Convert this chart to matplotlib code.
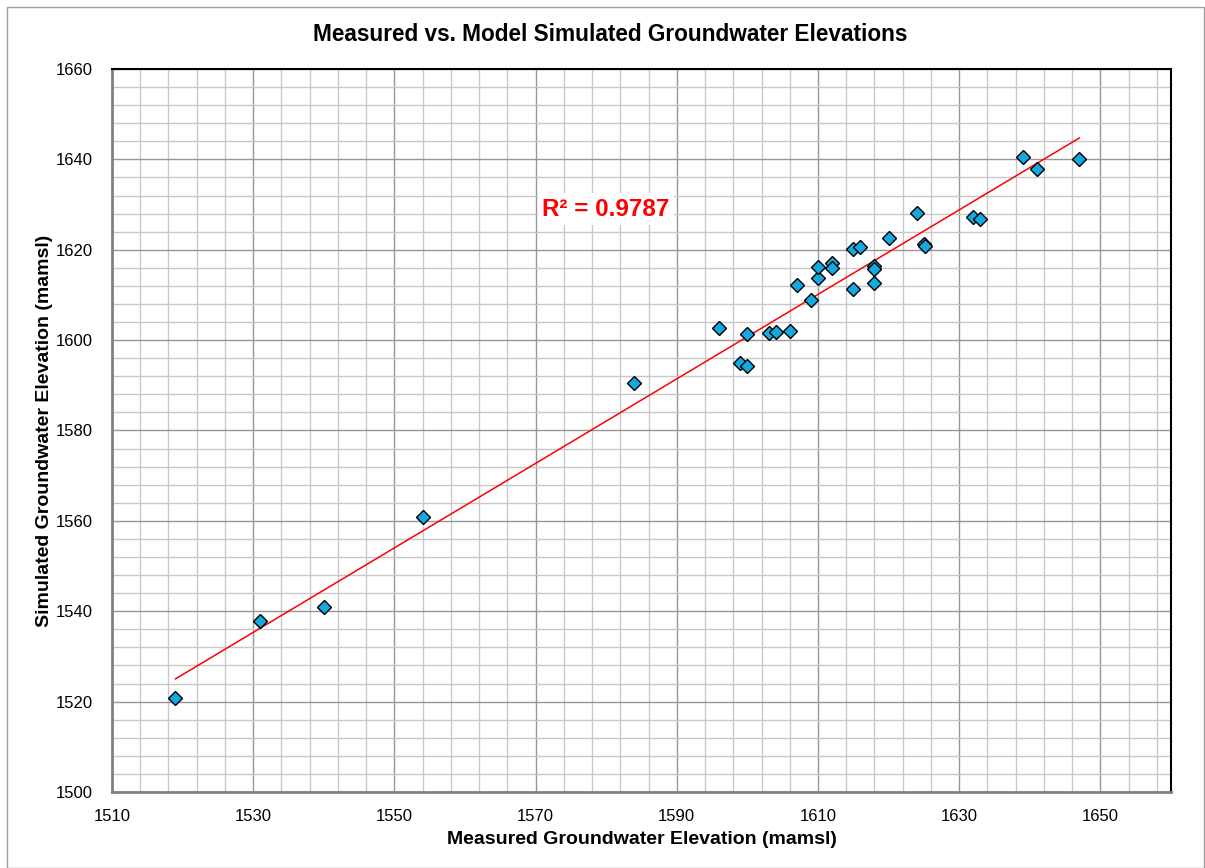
import matplotlib.pyplot as plt
from matplotlib.patches import Rectangle
from matplotlib.ticker import MultipleLocator
import numpy as np

plt.rcParams['font.family'] = ['Liberation Sans', 'DejaVu Sans']

# valori (mamsl)
measured = [1519, 1531, 1540, 1554, 1584,
            1596, 1600, 1599, 1600, 1603, 1604, 1606, 1607, 1609, 1610, 1610,
            1612, 1612, 1615, 1615, 1616, 1618, 1618, 1618, 1620, 1624, 1625, 1625.2,
            1632, 1633, 1639, 1641, 1647]
simulated = [1520.7, 1537.8, 1540.9, 1560.9, 1590.5,
             1602.7, 1601.4, 1594.9, 1594.2, 1601.6, 1601.9, 1602.0, 1612.3, 1608.8, 1613.7, 1616.2,
             1617.0, 1616.0, 1611.4, 1620.2, 1620.6, 1616.4, 1615.7, 1612.6, 1622.6, 1628.1, 1621.3, 1620.8,
             1627.2, 1626.8, 1640.6, 1637.9, 1640.1]
r2_label = "R² = 0.9787"

x = np.array(measured)
y = np.array(simulated)

fig = plt.figure(figsize=(12.05, 8.68), dpi=100)
ax = fig.add_axes([0.0929, 0.0876, 0.8789, 0.8329])

# bordo esterno
fig.patches.append(Rectangle((0.006, 0.0), 0.993, 0.992, transform=fig.transFigure,
                             fill=False, edgecolor='#a0a0a0', linewidth=1.0))

ax.set_xlim(1510, 1660)
ax.set_ylim(1500, 1660)
ax.xaxis.set_minor_locator(MultipleLocator(4, offset=2))
ax.yaxis.set_major_locator(MultipleLocator(20))
ax.yaxis.set_minor_locator(MultipleLocator(4))
ax.set_xticks(np.arange(1510, 1651, 20))

ax.grid(which='major', color='#969696', linewidth=1.0)
ax.grid(which='minor', color='#c8c8c8', linewidth=1.0)
ax.set_axisbelow(True)

# linea di tendenza
coef = np.polyfit(x, y, 1)
xt = np.array([x.min(), x.max()])
ax.plot(xt, np.polyval(coef, xt), color='red', linewidth=1.1, zorder=3)

ax.plot(x, y, linestyle='none', marker='D', markersize=7.3,
        markerfacecolor='#16a8e0', markeredgecolor='black', markeredgewidth=1.0, zorder=4)

ax.text(1580, 1629, r2_label, color='red', fontsize=17.5, fontweight='bold',
        ha='center', va='center', zorder=5,
        bbox=dict(facecolor='white', edgecolor='none', pad=3))

for side in ['top', 'right']:
    ax.spines[side].set_color('black')
    ax.spines[side].set_linewidth(1.5)
for side in ['left', 'bottom']:
    ax.spines[side].set_color('#808080')
    ax.spines[side].set_linewidth(2)

ax.tick_params(which='both', length=0, labelsize=12)
ax.tick_params(axis='y', pad=14)
ax.tick_params(axis='x', pad=12)

ax.set_title('Measured vs. Model Simulated Groundwater Elevations',
             fontsize=16.3, fontweight='bold', pad=20, x=0.47)
ax.set_xlabel('Measured Groundwater Elevation (mamsl)', fontsize=14, fontweight='bold', labelpad=5)
ax.set_ylabel('Simulated Groundwater Elevation (mamsl)', fontsize=14, fontweight='bold', labelpad=2)

fig.savefig('out.png', dpi=100)
